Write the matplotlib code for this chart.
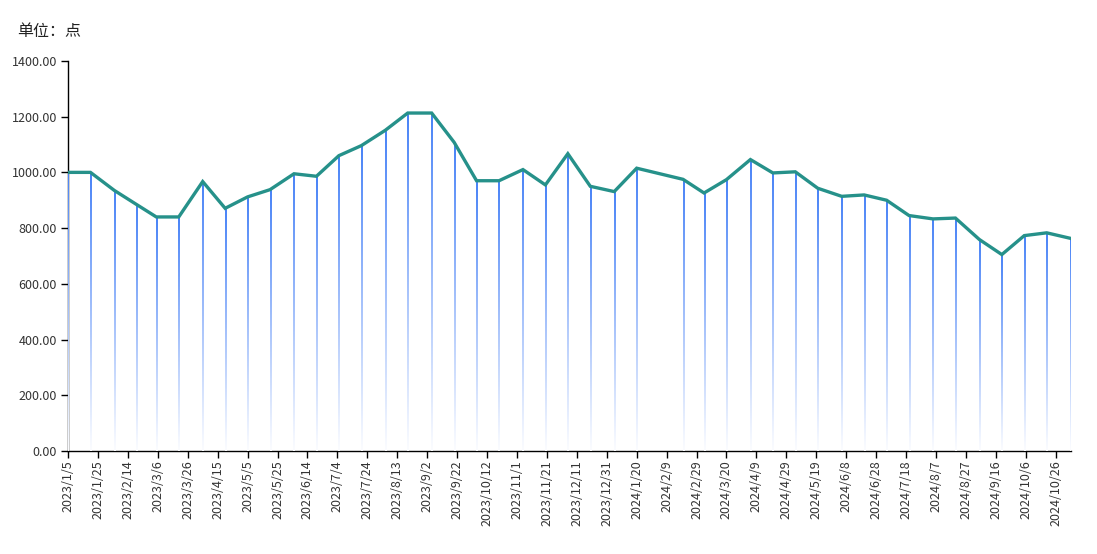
import numpy as np
import pandas as pd
import matplotlib
matplotlib.use("Agg")
import matplotlib.pyplot as plt
import matplotlib.dates as mdates
from matplotlib.colors import LinearSegmentedColormap

plt.rcParams['font.family'] = ['Noto Sans CJK SC', 'DejaVu Sans']

# 数据（半月）
dates = ["2023-01-05", "2023-01-20", "2023-02-05", "2023-02-20", "2023-03-05", "2023-03-20",
         "2023-04-05", "2023-04-20", "2023-05-05", "2023-05-20", "2023-06-05", "2023-06-20",
         "2023-07-05", "2023-07-20", "2023-08-05", "2023-08-20", "2023-09-05", "2023-09-20",
         "2023-10-05", "2023-10-20", "2023-11-05", "2023-11-20", "2023-12-05", "2023-12-20",
         "2024-01-05", "2024-01-20", "2024-02-20", "2024-03-05", "2024-03-20", "2024-04-05",
         "2024-04-20", "2024-05-05", "2024-05-20", "2024-06-05", "2024-06-20", "2024-07-05",
         "2024-07-20", "2024-08-05", "2024-08-20", "2024-09-05", "2024-09-20", "2024-10-05",
         "2024-10-20", "2024-11-05"]
values = [1000, 1000, 935, 884, 840, 840,
          967, 871, 912, 938, 995, 986,
          1060, 1096, 1151, 1213, 1213, 1108,
          970, 970, 1010, 955, 1067, 950,
          931, 1015, 975, 926, 974, 1046,
          998, 1002, 943, 914, 919, 900,
          845, 833, 836, 759, 705, 773,
          783, 763]
tick_dates = pd.date_range("2023-01-05", "2024-10-26", freq="20D")
yticks = [0, 200, 400, 600, 800, 1000, 1200, 1400]

x = mdates.date2num(pd.to_datetime(dates))

fig = plt.figure(figsize=(10.97, 5.54), dpi=100)
ax = fig.add_axes([0.062, 0.186, 0.914, 0.704])

# 渐变细柱（竖线）
cmap = LinearSegmentedColormap.from_list("fade", ["#fbfcff", "#a3c0fb", "#4a84f7"])
grad = np.linspace(1, 0, 100).reshape(-1, 1)
w = 0.7  # 约 1 像素宽（天）
for xi, v in zip(x, values):
    ax.imshow(grad, extent=[xi - w / 2, xi + w / 2, 0, v], aspect='auto',
              cmap=cmap, vmin=0, vmax=1, interpolation='bilinear', zorder=3)

ax.plot(x, values, color='#26918a', linewidth=2.4, zorder=4, solid_joinstyle='miter')

ax.set_ylim(0, 1400)
ax.set_yticks(yticks)
ax.set_yticklabels([f"{v:.2f}" for v in yticks], fontsize=9, color='#333333')
ax.set_xlim(x[0], x[-1])
ax.set_xticks(mdates.date2num(tick_dates))
ax.set_xticklabels([f"{d.year}/{d.month}/{d.day}" for d in tick_dates],
                   rotation=90, fontsize=9, color='#333333')
ax.tick_params(axis='y', length=5, width=1, pad=3)
ax.tick_params(axis='x', length=5, width=1, pad=2)

for s in ['top', 'right']:
    ax.spines[s].set_visible(False)
ax.spines['left'].set_linewidth(1)
ax.spines['bottom'].set_linewidth(1)

fig.text(0.0155, 0.944, "单位：点", fontsize=11.5, color='#222222', va='center')

fig.savefig("out.png", dpi=100)
